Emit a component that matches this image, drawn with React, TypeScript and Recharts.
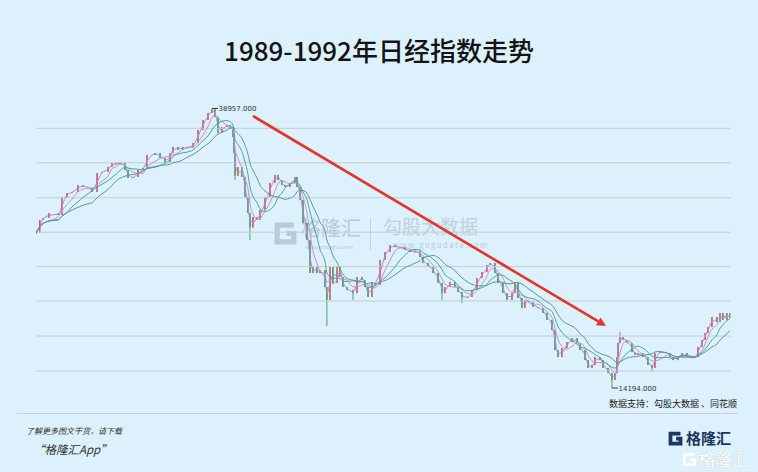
import React from "react";
import { ComposedChart, Bar, Line, XAxis, YAxis, ReferenceLine, ReferenceDot } from "recharts";

// [month index from Jan 1988, close]
const bullRun: [number, number][] = [
  [10.25, 27930], [10.55, 29080], [10.8, 29260], [11.27, 29700], [12.0, 29520], [12.28, 31120],
  [12.67, 31470], [13.06, 31560], [13.53, 32180], [13.92, 32000], [14.31, 31910], [14.63, 31560],
  [15.02, 33240], [15.41, 33330], [15.88, 33780], [16.19, 34130], [16.5, 34000], [16.81, 34180],
  [17.2, 33510], [17.44, 32800], [17.83, 32890], [18.22, 33510], [18.61, 33690], [18.92, 34840],
  [19.55, 35010], [19.94, 34570], [20.33, 34220], [20.72, 35010], [20.95, 35550], [21.34, 35280],
  [21.73, 35550], [22.05, 35460], [22.52, 35900], [22.91, 37050], [23.3, 37940], [23.69, 38560],
  [24.0, 38900],
];
const crash1990: [number, number][] = [
  [24.23, 38200], [24.47, 36790], [24.78, 37320], [25.17, 37500], [25.41, 37320], [25.64, 36430],
  [25.72, 35010], [25.8, 33000], [26.03, 33770], [26.34, 32890], [26.58, 31120], [26.81, 29700],
  [26.97, 28400], [27.2, 29340], [27.52, 29080], [27.75, 29960], [28.14, 31120], [28.53, 32360],
  [28.92, 33070], [29.16, 32620], [29.47, 32180], [29.7, 32000], [30.09, 32360], [30.48, 32890],
  [30.64, 32000], [30.88, 30850], [31.11, 28810], [31.42, 27310], [31.66, 24380], [31.89, 24910],
  [32.2, 24380], [32.44, 24650], [32.83, 23140], [32.98, 22000], [33.22, 24910],
];
const rebound1991: [number, number][] = [
  [33.45, 23500], [33.77, 24910], [34.0, 24030], [34.23, 23140], [34.55, 22880], [35.02, 22600],
  [35.33, 24030], [35.72, 23760], [35.95, 23140], [36.19, 22260], [36.5, 23500], [36.73, 23320],
  [37.13, 25540], [37.52, 26240], [37.91, 26860], [38.3, 26690], [38.69, 26600], [39.08, 26420],
  [39.47, 26240], [39.86, 26300], [40.25, 25800], [40.48, 25270], [40.88, 24910], [41.27, 24380],
  [41.66, 23500], [41.97, 22600], [42.2, 23140], [42.59, 23590], [42.98, 23140], [43.22, 22700],
  [43.53, 22200], [43.92, 22260], [44.31, 22880], [44.7, 23940], [45.09, 24470], [45.48, 25090],
  [45.72, 25270],
];
const slide1992: [number, number][] = [
  [46.11, 24380], [46.34, 23500], [46.73, 22610], [47.05, 21990], [47.44, 22610], [47.67, 23500],
  [47.91, 22170], [48.22, 21280], [48.45, 21990], [48.69, 21810], [49.08, 21370], [49.47, 21280],
  [49.86, 20840], [50.17, 20220], [50.56, 19330], [50.8, 17560], [51.03, 16940], [51.34, 17740],
  [51.73, 18270], [52.13, 18620], [52.52, 18180], [52.75, 17560], [53.14, 16670], [53.38, 15970],
  [53.69, 16230], [53.92, 16940], [54.31, 16670], [54.55, 15970], [54.94, 15520], [55.25, 14900],
  [55.48, 15520], [55.64, 16940], [55.72, 18180], [55.88, 18710],
];
const recovery1993: [number, number][] = [
  [56.11, 18450], [56.42, 18180], [56.81, 17380], [57.05, 17120], [57.28, 17290], [57.67, 16940],
  [58.06, 16230], [58.38, 15970], [58.61, 17290], [59.0, 17380], [59.39, 17290], [59.78, 16940],
  [60.02, 16670], [60.41, 16940], [60.72, 17290], [61.11, 16940], [61.5, 16850], [61.73, 16940],
  [61.97, 17830], [62.28, 18450], [62.52, 19070], [62.75, 19600], [63.06, 20480], [63.45, 20040],
  [63.69, 20840], [63.92, 20220], [64.23, 20840], [64.47, 20400],
];

// long shadows that stick out of the band
const wickLows: [number, number][] = [
  [25.8, 32620], [26.97, 27300], [32.98, 19700], [35.02, 21990], [41.97, 21990],
  [43.53, 21720], [55.25, 14194], [58.38, 15700],
];
const wickHighs: [number, number][] = [[24.0, 38957], [55.88, 19150]];

const gridValues = [37200, 34150, 31050, 28000, 24950, 21900, 18800, 15700];
const peak = { t: 24.0, v: 38957, label: "38957.000" };
const bottom = { t: 55.25, v: 14194, label: "14194.000" };
const arrowFrom = { t: 27.2, v: 38290 };
const arrowTo = { t: 54.78, v: 19690 };

const maSpecs = [
  { key: "ma2", n: 2, color: "#a986d8" },
  { key: "ma4", n: 4, color: "#cf8cc8" },
  { key: "ma7", n: 7, color: "#3fab8c" },
  { key: "ma12", n: 12, color: "#5f939c" },
];

const closes = [...bullRun, ...crash1990, ...rebound1991, ...slide1992, ...recovery1993];

const rows = closes.map(([t, close], i) => {
  const open = i === 0 ? close : closes[i - 1][1];
  const lo = wickLows.find((w) => w[0] === t);
  const hi = wickHighs.find((w) => w[0] === t);
  const low = Math.min(open, close, lo ? lo[1] : Infinity);
  const high = Math.max(open, close, hi ? hi[1] : -Infinity);
  const row: any = { t, open, close, high, low, range: [low, high] };
  // moving averages of the closes, like the terminal's MA lines
  maSpecs.forEach(({ key, n }) => {
    const win = closes.slice(Math.max(0, i - n + 1), i + 1);
    row[key] = win.reduce((s, c) => s + c[1], 0) / win.length;
  });
  return row;
});

const Candle = (props: any) => {
  const { x, y, width, height, payload } = props;
  if (x == null || y == null) return null;
  const { open, close, high, low } = payload;
  const span = high - low;
  const py = (v: number) => (span > 0 ? y + ((high - v) / span) * height : y);
  const color = close >= open ? "#c9404f" : "#2a8d45";
  const cx = x + width / 2;
  const top = py(Math.max(open, close));
  const bot = py(Math.min(open, close));
  return (
    <g>
      <line x1={cx} x2={cx} y1={y} y2={y + Math.max(height, 1)} stroke={color} strokeWidth={0.8} />
      <rect x={x} y={top} width={Math.max(width, 1)} height={Math.max(bot - top, 1)} fill={color} />
    </g>
  );
};

const Arrow = (p: any) => {
  const { x1, y1, x2, y2 } = p;
  if (x1 == null) return null;
  const ang = Math.atan2(y2 - y1, x2 - x1);
  const len = 9;
  const hw = 4.5;
  const bx = x2 - len * Math.cos(ang);
  const by = y2 - len * Math.sin(ang);
  const px = -Math.sin(ang) * hw;
  const py = Math.cos(ang) * hw;
  return (
    <g>
      <line x1={x1} y1={y1} x2={bx} y2={by} stroke="#e2352c" strokeWidth={2.6} />
      <polygon points={`${x2},${y2} ${bx + px},${by + py} ${bx - px},${by - py}`} fill="#e2352c" />
    </g>
  );
};

const PriceTag = (label: string) => (p: any) => {
  const { cx, cy } = p;
  if (cx == null) return null;
  return (
    <g>
      <line x1={cx} y1={cy} x2={cx + 6} y2={cy} stroke="#333" strokeWidth={1} />
      <text x={cx + 6.5} y={cy + 2.5} fontSize={7} fill="#333" fontFamily="DejaVu Sans, sans-serif">
        {label}
      </text>
    </g>
  );
};

const GIcon = ({ size, color, w = 4 }: { size: number; color: string; w?: number }) => (
  <svg width={size} height={size} viewBox="0 0 24 24" style={{ display: "block" }}>
    <path d="M20 4 H4 V20 H20 V12 H13" fill="none" stroke={color} strokeWidth={w} strokeLinejoin="miter" />
  </svg>
);

const cjk = '"Noto Sans CJK SC", "Noto Sans", sans-serif';
const abs = (s: React.CSSProperties): React.CSSProperties => ({ position: "absolute", whiteSpace: "nowrap", fontFamily: cjk, ...s });

export default function App() {
  return (
    <div style={{ position: "relative", width: 758, height: 472, background: "#dcf1fb", overflow: "hidden" }}>
      <style>{"body{margin:0}"}</style>
      <div style={abs({ left: 0, width: 758, top: 34, textAlign: "center", fontSize: 26, lineHeight: "32px", fontWeight: 500, color: "#141414" })}>
        1989-1992年日经指数走势
      </div>

      {/* watermark */}
      <div style={abs({ left: 273, top: 221 })}><GIcon size={25} color="#b7cad8" w={5} /></div>
      <div style={abs({ left: 301, top: 217, fontSize: 20, lineHeight: "21px", color: "#b7cad8" })}>格隆汇</div>
      <div style={abs({ left: 305, top: 244, fontSize: 5, lineHeight: "6px", color: "#b7cad8" })}>www.gelonghui.com</div>
      <div style={abs({ left: 370, top: 218, width: 1, height: 32, background: "#c5d5e0" })} />
      <div style={abs({ left: 383, top: 216, fontSize: 19, lineHeight: "20px", color: "#c0d1dd" })}>勾股大数据</div>
      <div style={abs({ left: 393, top: 241, fontSize: 7.5, lineHeight: "8px", letterSpacing: 1.6, color: "#b9cbd8" })}>www.gogudata.com</div>

      <div style={{ position: "absolute", left: 0, top: 0 }}>
        <ComposedChart width={758} height={472} data={rows} margin={{ top: 96.7, right: 27.6, bottom: 70.5, left: 36 }}>
          <XAxis dataKey="t" type="number" domain={[10.25, 64.5]} hide allowDataOverflow />
          <YAxis type="number" domain={[13000, 40000]} hide allowDataOverflow />
          {gridValues.map((g) => (
            <ReferenceLine key={g} y={g} stroke="#c5ced3" strokeWidth={1} />
          ))}
          <Bar dataKey="range" barSize={3} shape={(p: any) => <Candle {...p} />} isAnimationActive={false} />
          {maSpecs.map((m) => (
            <Line key={m.key} dataKey={m.key} type="monotone" stroke={m.color} strokeWidth={1} dot={false} activeDot={false} isAnimationActive={false} />
          ))}
          <ReferenceLine
            segment={[{ x: arrowFrom.t, y: arrowFrom.v }, { x: arrowTo.t, y: arrowTo.v }]}
            shape={(p: any) => <Arrow {...p} />}
          />
          <ReferenceDot x={peak.t} y={peak.v} r={0} shape={PriceTag(peak.label)} />
          <ReferenceDot x={bottom.t} y={bottom.v} r={0} shape={PriceTag(bottom.label)} />
        </ComposedChart>
      </div>

      <div style={abs({ right: 21, top: 397, fontSize: 9, lineHeight: "13px", color: "#222" })}>数据支持：勾股大数据 、同花顺</div>
      <div style={abs({ left: 17, top: 413, width: 721, height: 1, background: "#c6d0d6" })} />
      <div style={abs({ left: 26, top: 425, fontSize: 8, lineHeight: "12px", fontStyle: "italic", color: "#333" })}>了解更多图文干货，请下载</div>
      <div style={abs({ left: 33, top: 441, fontSize: 11.5, lineHeight: "16px", fontStyle: "italic", color: "#333" })}>“格隆汇App”</div>

      <div style={abs({ left: 668, top: 431 })}><GIcon size={15} color="#1d3560" w={6} /></div>
      <div style={abs({ left: 686, top: 429, fontSize: 15, lineHeight: "17px", fontWeight: 700, color: "#1d3560" })}>格隆汇</div>
      <div style={abs({ left: 682, top: 452 })}><GIcon size={15} color="#ffffff" w={4} /></div>
      <div style={abs({ left: 698, top: 449, fontSize: 17, lineHeight: "20px", color: "#ffffff", textShadow: "0 0 1px #aab8c4" })}>格隆汇</div>
    </div>
  );
}
